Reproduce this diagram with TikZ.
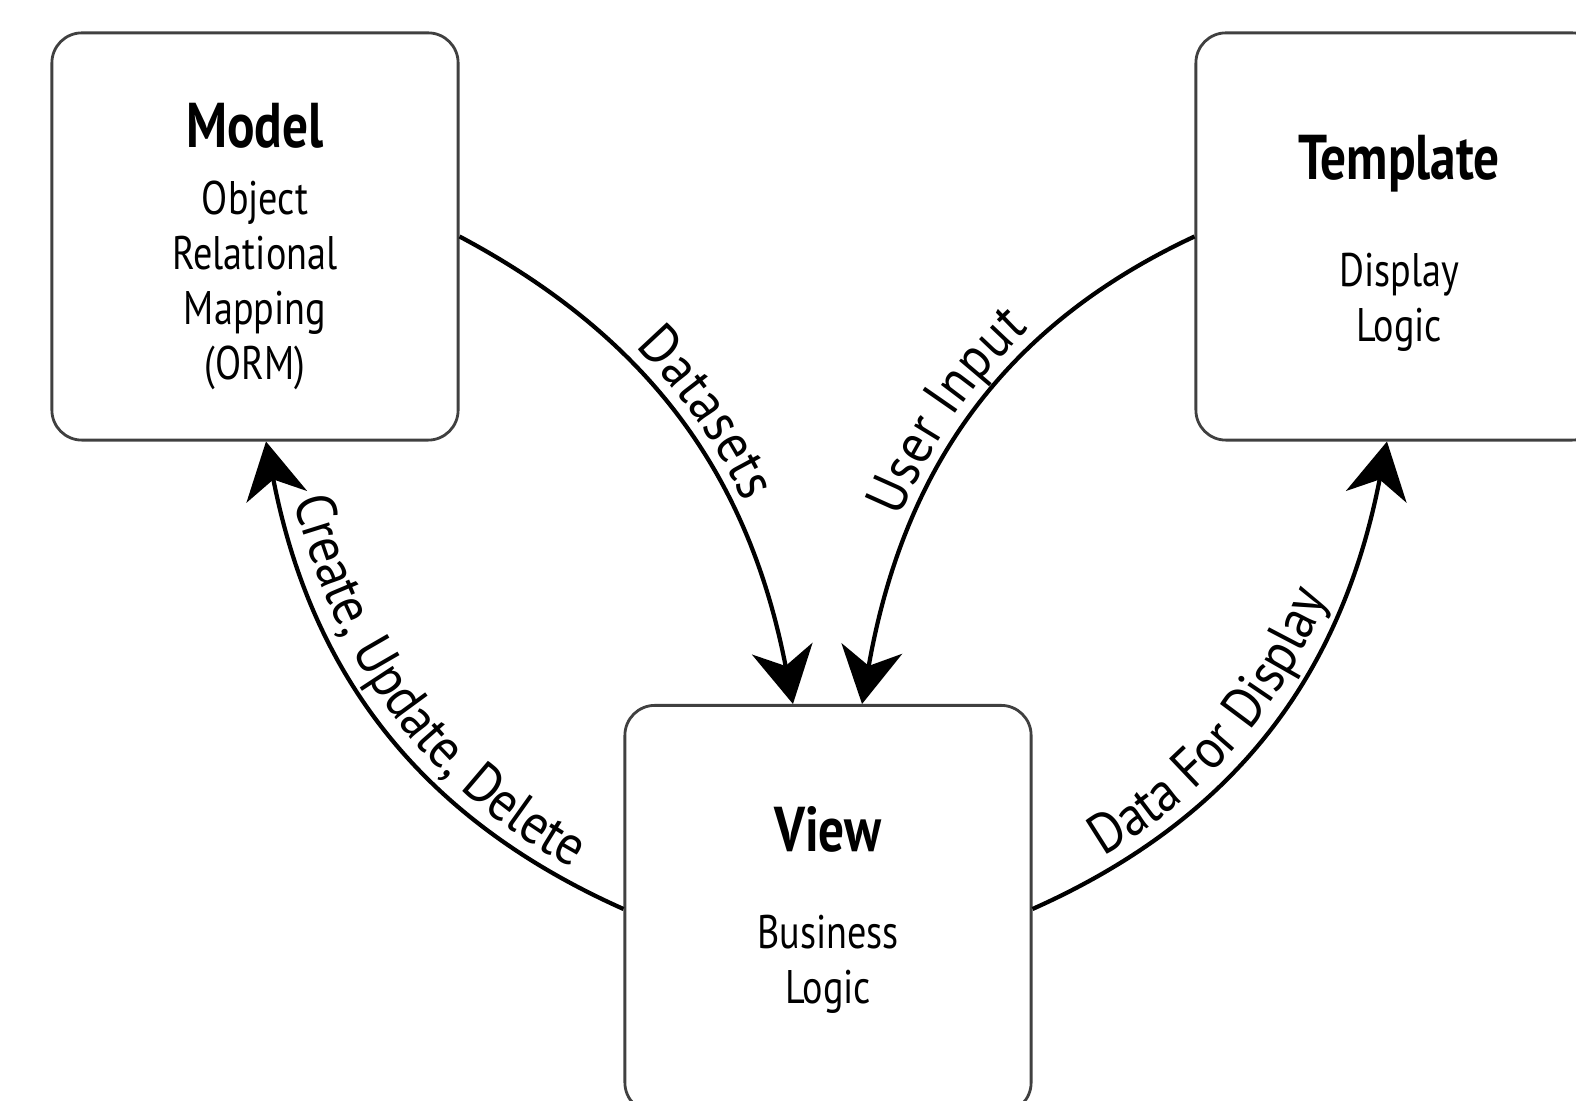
\documentclass[tikz,border=0pt]{standalone}
\usepackage{fontspec}
\setmainfont{PT Sans}[FakeStretch=0.81]
\newfontfamily\flowfamily{PT Sans}[FakeStretch=0.9]
\usetikzlibrary{arrows.meta}
\usetikzlibrary{decorations.text}
\newcommand{\flowfont}{\flowfamily\fontsize{16}{19}\selectfont}
\newcommand{\titlefont}{\fontsize{18}{20}\selectfont\bfseries}

\begin{document}
\begin{tikzpicture}[x=0.01cm,y=0.01cm,
  box/.style={draw=black!75,line width=0.8pt,rounded corners=0.3cm,minimum width=4.06cm,minimum height=4.07cm},
  boxtext/.style={align=center,inner sep=0pt,font=\fontsize{13.4}{15.65}\selectfont},
  flow/.style={line width=1.2pt,-{Stealth[length=16pt,width=17.5pt,inset=5pt]}},
  flowtext/.style={decorate,decoration={text along path,text align=center,raise=4pt}}]
\useasboundingbox (0,0) rectangle (1576,1100);
\clip (0,0) rectangle (1576,1100);

% the three parts
\node[box] (model) at (255,863.5) {};
\node[box] (template) at (1399,863.5) {};
\node[box] (view) at (828,191) {};
\node[boxtext] (modeltext) at ([yshift=-0.10cm]model.center) {{\titlefont Model}\\[3.2pt]Object\\Relational\\Mapping\\(ORM)};
\node[boxtext] (templatetext) at ([yshift=-0.07cm]template.center) {{\titlefont Template}\\[14.9pt]Display\\Logic};
\node[boxtext] (viewtext) at ([yshift=-0.01cm]view.center) {{\titlefont View}\\[12pt]Business\\Logic};

% arrows
\draw[flow] (model.east) to[out=-28,in=101] ([xshift=-0.35cm]view.north);
\draw[flow] (template.west) to[out=205,in=80] ([xshift=0.34cm]view.north);
\draw[flow] (view.west) to[out=156,in=-79] ([xshift=0.11cm]model.south);
\draw[flow] (view.east) to[out=24,in=259] ([xshift=-0.12cm]template.south);

% labels along the arrows
\path[flowtext,decoration={text={|\flowfont|Datasets}}] (model.east) to[out=-28,in=101] ([xshift=-0.35cm]view.north);
\path[flowtext,decoration={text={|\flowfont|User Input}}] ([xshift=0.34cm]view.north) to[out=80,in=205] (template.west);
\path[flowtext,decoration={text={|\flowfont|Create, Update, Delete}}] ([xshift=0.11cm]model.south) to[out=-79,in=156] (view.west);
\path[flowtext,decoration={text={|\flowfont|Data For Display},text align={align=center,right indent=0.8cm}}] (view.east) to[out=24,in=259] ([xshift=-0.12cm]template.south);

\end{tikzpicture}
\end{document}
